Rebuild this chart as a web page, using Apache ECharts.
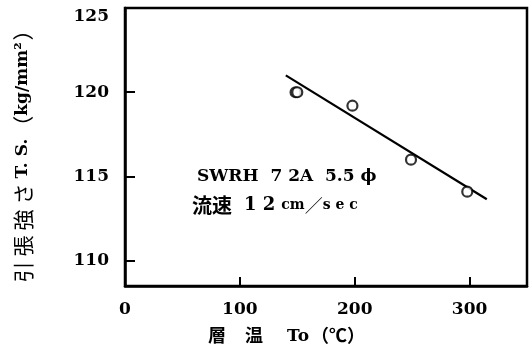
<!DOCTYPE html>
<html>
<head>
<meta charset="utf-8">
<script src="https://cdn.jsdelivr.net/npm/echarts@6/dist/echarts.min.js"></script>
<style>
  html, body { margin: 0; padding: 0; background: #fff; }
  #chart { width: 532px; height: 354px; }
</style>
</head>
<body>
<div id="chart"></div>
<script>
// Measured tensile strength vs. layer temperature
const tempC = [148.5, 150, 198, 249, 298];
const strength = [120.0, 120.0, 119.2, 116.0, 114.1];

// Fitted trend line endpoints
const fitTemp = [140, 315];
const fitStrength = [121.0, 113.65];

// Axis tick labels
const xTicks = [0, 100, 200, 300];
const yTicks = [110, 115, 120, 125];

const serif = '"DejaVu Serif", "Liberation Serif", serif';
const cjk = '"Noto Sans CJK JP", sans-serif';

const chart = echarts.init(document.getElementById('chart'), null, { renderer: 'canvas' });

chart.setOption({
  animation: false,
  backgroundColor: '#fff',
  grid: { left: 125, right: 5, top: 8, bottom: 68, show: true, borderColor: '#000', borderWidth: 2.5 },
  xAxis: {
    type: 'value', min: 0, max: 350, interval: 100,
    axisLine: { show: true, lineStyle: { color: '#000', width: 2.5 } },
    axisTick: { show: true, inside: true, length: 9, lineStyle: { color: '#000', width: 2 },
      customValues: xTicks.filter(v => v > 0) },
    axisLabel: { color: '#000', fontFamily: serif, fontWeight: 'bold', fontSize: 17, margin: 15,
      customValues: xTicks },
    splitLine: { show: false }
  },
  yAxis: {
    type: 'value', min: 108.5, max: 125, interval: 5,
    axisLine: { show: true, lineStyle: { color: '#000', width: 2.5 } },
    axisTick: { show: true, inside: true, length: 10, lineStyle: { color: '#000', width: 2 },
      customValues: yTicks.filter(v => v < 125) },
    axisLabel: { color: '#000', fontFamily: serif, fontWeight: 'bold', fontSize: 17, margin: 16,
      verticalAlignMaxLabel: 'top',
      customValues: yTicks },
    splitLine: { show: false }
  },
  series: [
    {
      type: 'line',
      data: fitTemp.map((t, i) => [t, fitStrength[i]]),
      symbol: 'none',
      lineStyle: { color: '#000', width: 2.2 },
      z: 2
    },
    {
      type: 'scatter',
      data: tempC.map((t, i) => [t, strength[i]]),
      symbol: 'circle',
      symbolSize: 10,
      itemStyle: { color: '#fff', borderColor: '#000', borderWidth: 2.2 },
      z: 3
    }
  ],
  graphic: [
    {
      type: 'text', left: 197, top: 168,
      style: { text: 'SWRH  7 2A  5.5 \u03d5', fill: '#000', font: 'bold 17px ' + serif }
    },
    {
      type: 'text', left: 192, top: 195,
      style: {
        rich: {
          j: { fontFamily: cjk, fontSize: 20, fontWeight: 'bold', fill: '#000', padding: [0, 12, 0, 0] },
          s: { fontFamily: serif, fontSize: 18, fontWeight: 'bold', fill: '#000', padding: [0, 6, 0, 0] },
          m: { fontFamily: serif, fontSize: 14, fontWeight: 'bold', fill: '#000' },
          k: { fontFamily: cjk, fontSize: 18, fill: '#000' }
        },
        text: '{j|流速}{s|1 2}{m|cm}{k|／}{m|s e c}'
      }
    },
    {
      type: 'text', left: 208, top: 326,
      style: {
        rich: {
          j: { fontFamily: cjk, fontSize: 18, fontWeight: 'bold', fill: '#000', padding: [0, 19, 0, 0] },
          u: { fontFamily: cjk, fontSize: 18, fontWeight: 'bold', fill: '#000', padding: [0, 24, 0, 0] },
          s: { fontFamily: serif, fontSize: 17, fontWeight: 'bold', fill: '#000', padding: [3, 2, 0, 0] },
          k: { fontFamily: cjk, fontSize: 18, fontWeight: 'bold', fill: '#000' }
        },
        text: '{j|層}{u|温}{s|To}{k|（℃）}'
      }
    },
    {
      type: 'text', x: 23, y: 151, rotation: Math.PI / 2,
      style: {
        rich: {
          j: { fontFamily: cjk, fontSize: 21, fill: '#000', padding: [0, 5, 0, 0] },
          p: { fontFamily: cjk, fontSize: 21, fill: '#000' },
          s: { fontFamily: serif, fontSize: 17, fontWeight: 'bold', fill: '#000', padding: [0, 2, 0, 0] }
        },
        text: '{j|引}{j|張}{j|強}{j|さ}{s|T. S.}{p|（}{s|kg/mm²}{p|）}',
        align: 'center', verticalAlign: 'middle'
      }
    }
  ]
});
</script>
</body>
</html>
